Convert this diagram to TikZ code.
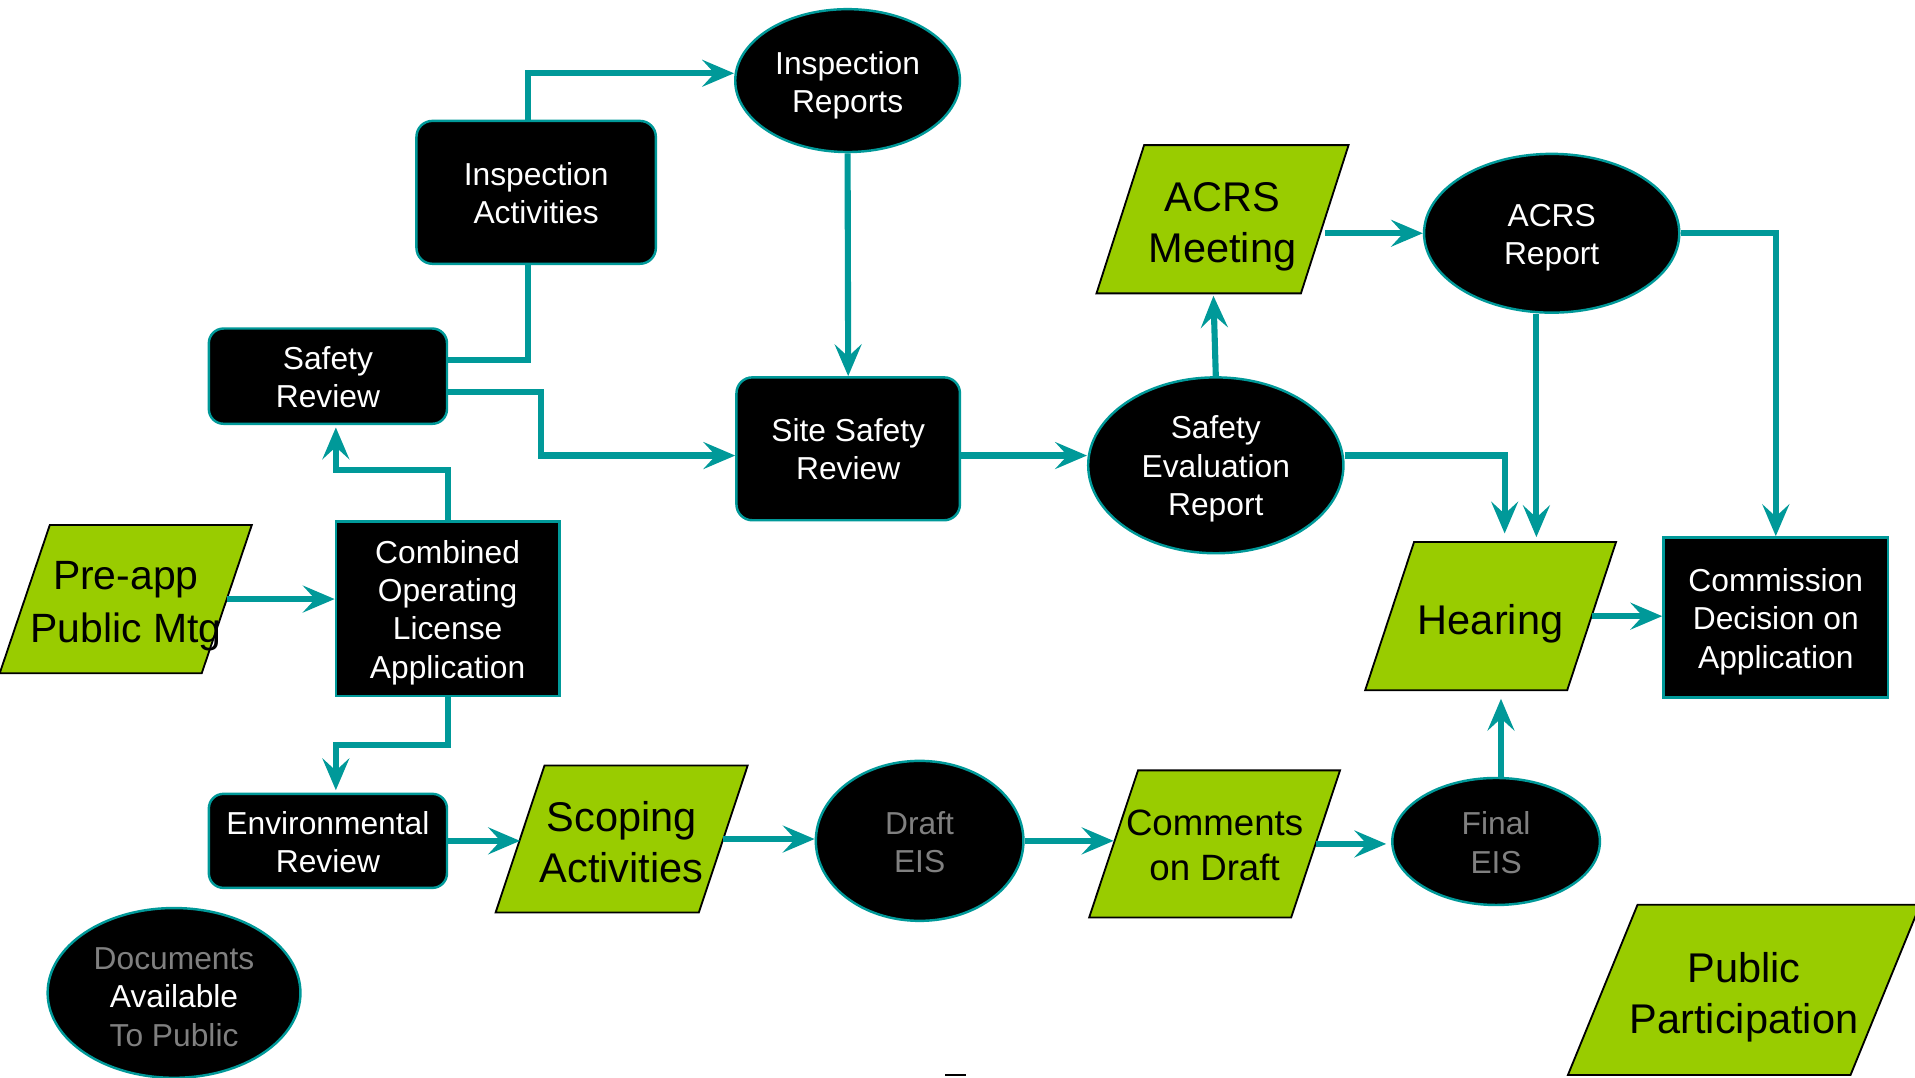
\documentclass[tikz,border=0pt]{standalone}
\usepackage{fontspec}
\setmainfont{Liberation Sans}
\usetikzlibrary{shapes.geometric,arrows.meta,calc}
\definecolor{teal1}{RGB}{0,153,153}
\definecolor{lime1}{RGB}{153,204,0}
\definecolor{grey1}{RGB}{128,128,128}
% parallelogram outline around a named rectangle node: #1 name, #2 half slant
\newcommand\myparashape[2]{%
  \draw[pshape] ([xshift=#2]#1.north west) -- ([xshift=#2]#1.north east)
     -- ([xshift=-#2]#1.south east) -- ([xshift=-#2]#1.south west) -- cycle;}
\begin{document}
\begin{tikzpicture}[x=1pt,y=-1pt,
  box/.style={draw=teal1, line width=2pt, fill=black, text=white, inner sep=0pt, align=center, font=\fontsize{26}{31.3}\selectfont},
  rbox/.style={box, rectangle, rounded corners=13pt},
  sbox/.style={box, rectangle},
  oval/.style={draw=teal1, line width=2pt, fill=black, ellipse, inner sep=0pt},
  wtxt/.style={text=white, align=center, font=\fontsize{26}{31.3}\selectfont, inner sep=0pt, yshift=-3pt},
  pbox/.style={rectangle, inner sep=0pt},
  pshape/.style={draw=black, line width=1.5pt, fill=lime1, line join=miter},
  gtxt/.style={text=black, align=center, font=\fontsize{34}{42}\selectfont, inner sep=0pt},
  conn/.style={draw=teal1, line width=5pt, -{Stealth[length=26pt,width=22pt,inset=10pt]}},
  link/.style={draw=teal1, line width=5pt},
]
\useasboundingbox (0,0) rectangle (1568,882);

% black nodes
\node[oval, minimum width=184pt, minimum height=117pt, label={[wtxt, yshift=-1pt]center:{Inspection\\Reports}}] (ir) at (694,66) {};
\node[rbox, minimum width=196pt, minimum height=117pt] (ia) at (439,157.5) {};
\node[wtxt, yshift=2.5pt] (iat) at (ia) {Inspection\\Activities};
\node[rbox, rounded corners=12pt, minimum width=195pt, minimum height=78pt] (sr) at (268.5,308) {};
\node[wtxt, yshift=2pt] (srt) at (sr) {Safety\\Review};
\node[rbox, minimum width=183pt, minimum height=117pt] (ssr) at (694.5,367.5) {};
\node[wtxt, yshift=2.5pt] (ssrt) at (ssr) {Site Safety\\Review};
\node[oval, minimum width=209pt, minimum height=144pt, label={[wtxt]center:{Safety\\Evaluation\\Report}}] (ser) at (995.5,381) {};
\node[oval, minimum width=209pt, minimum height=130pt, label={[wtxt, yshift=-0.5pt]center:{ACRS\\Report}}] (acrsr) at (1270.5,191) {};
\node[sbox, minimum width=183pt, minimum height=143pt] (cola) at (366.5,498.5) {};
\node[wtxt] (colat) at (cola) {Combined\\Operating\\License\\Application};
\node[sbox, minimum width=184pt, minimum height=131pt] (comm) at (1454,505.5) {};
\node[wtxt, yshift=-0.5pt] (commt) at (comm) {Commission\\Decision on\\Application};
\node[rbox, rounded corners=12pt, minimum width=195pt, minimum height=77pt] (env) at (268.5,688.5) {};
\node[wtxt, yshift=2pt] (envt) at (env) {Environmental\\Review};
\node[oval, minimum width=170pt, minimum height=131pt, label={[wtxt, yshift=2pt, text=grey1]center:{Draft\\EIS}}] (draft) at (753,688.5) {};
\node[oval, minimum width=170pt, minimum height=104pt, label={[wtxt, yshift=2pt, text=grey1]center:{Final\\EIS}}] (final) at (1225,689) {};
\node[oval, minimum width=207pt, minimum height=139pt, label={[wtxt, yshift=-0.5pt]center:{\textcolor{grey1}{Documents}\\Available\\\textcolor{grey1}{To Public}}}] (docs) at (142.5,813) {};

% green parallelograms
\node[pbox, minimum width=167pt, minimum height=121pt] (acrsm) at (1001,179.5) {};
\myparashape{acrsm}{19.5pt}
\node[gtxt, yshift=-6.5pt] (acrsmt) at (acrsm) {ACRS\\Meeting};

\node[pbox, minimum width=165pt, minimum height=121pt] (pre) at (103,490.5) {};
\myparashape{pre}{20.5pt}
\node[gtxt, yshift=-6pt, font=\fontsize{33.5}{43}\selectfont] (pret) at (pre) {Pre-app\\Public Mtg};

\node[pbox, minimum width=165pt, minimum height=121pt] (hear) at (1220.5,504.5) {};
\myparashape{hear}{20pt}
\node[gtxt, yshift=-6pt] (heart) at (hear) {Hearing};

\node[pbox, minimum width=166pt, minimum height=120pt] (scop) at (509,687) {};
\myparashape{scop}{20pt}
\node[gtxt, yshift=-2.5pt] (scopt) at (scop) {Scoping\\Activities};

\node[pbox, minimum width=165pt, minimum height=120pt] (cmt) at (994.5,691) {};
\myparashape{cmt}{20pt}
\node[gtxt, yshift=-1.5pt, font=\fontsize{30}{37}\selectfont] (cmtt) at (cmt) {Comments\\on Draft};

\node[pbox, minimum width=231pt, minimum height=139pt] (pp) at (1428,810.5) {};
\myparashape{pp}{28.5pt}
\node[gtxt, yshift=-6pt] (ppt) at (pp) {Public\\Participation};

% connectors
\draw[conn] ([xshift=-7pt]ia.north) |- ([yshift=6pt]ir.west);
\draw[link] ([yshift=13pt]sr.east) -| ([xshift=-7pt]ia.south);
\draw[conn] ([yshift=-13pt]sr.east) -- ++(76,0) |- ([yshift=-5.5pt]ssr.west);
\draw[conn] (ir.south) -- (ssr.north);
\draw[conn] ([yshift=-5.5pt]ssr.east) -- ([yshift=-5.5pt]ssr.east -| ser.west);
\draw[conn, shorten >=2pt] (ser.north) -- ([xshift=-2pt]ser.north |- acrsm.south);
\draw[conn] (acrsm.east |- acrsr.west) -- (acrsr.west);
\draw[conn] (acrsr.east) -| (comm.north);
\draw[conn, shorten >=4pt] ([xshift=-12.5pt]acrsr.south) -- ([xshift=-12.5pt]acrsr.south |- hear.north);
\draw[conn, shorten >=7pt] ([yshift=8pt]ser.east) -| ([xshift=11.5pt]hear.north);
\draw[conn] (hear.east) -- (hear.east -| comm.west);
\draw[conn, shorten >=7pt] ([xshift=4pt]final.north) -- ([xshift=4pt]final.north |- hear.south);
\draw[conn] (pre.east) -- (pre.east -| cola.west);
\draw[conn, shorten >=2pt] (cola.north) -- ++(0,-41) -| ([xshift=6.5pt]sr.south);
\draw[conn, shorten >=2pt] (cola.south) -- ++(0,39) -| ([xshift=6.5pt]env.north);
\draw[conn] (env.east) -- (env.east -| scop.west);
\draw[conn] (scop.east) -- (scop.east -| draft.west);
\draw[conn] (draft.east) -- (draft.east -| cmt.west);
\draw[conn, shorten >=4pt] (cmt.east) -- (cmt.east -| final.west);

% small mark at the bottom edge
\draw[black, line width=1.5pt] (774,880.5) -- (791,880.5);
\end{tikzpicture}
\end{document}
